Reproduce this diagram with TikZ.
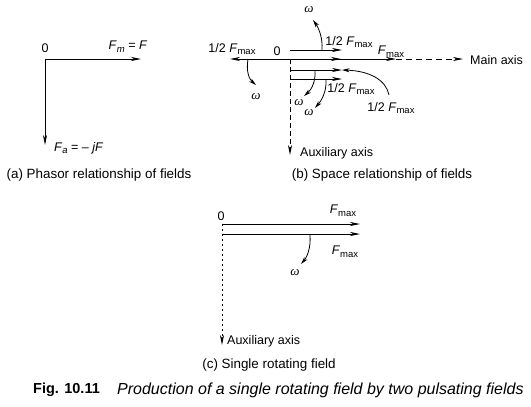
\documentclass[tikz,border=0pt]{standalone}
\usepackage{fontspec}
\setmainfont{Liberation Sans}
\newfontfamily\serifw{Liberation Serif}
\usetikzlibrary{arrows.meta}
\newcommand\subtx[1]{\raisebox{-0.4ex}{\fontsize{9.5}{10}\selectfont #1}}
\newcommand\Fmx{\textit{F}\subtx{max}}
\newcommand\omg{{\serifw\itshape ω}}
\begin{document}
\begin{tikzpicture}[x=1pt,y=1pt,
  ln/.style={line width=0.9pt},
  tip/.style={-{Stealth[length=10pt,width=4pt,inset=3pt]}},
  arr/.style={ln,tip},
  warr/.style={line width=0.8pt,-{Stealth[length=7.5pt,width=4pt,inset=2.2pt]}},
  lbl/.style={inner sep=0pt,font=\fontsize{12.5}{14}\selectfont},
  captxt/.style={inner sep=0pt,font=\fontsize{13.4}{15}\selectfont},
  omn/.style={inner sep=0pt,font=\fontsize{13}{14}\selectfont},
  axb/.style={ln,dash pattern=on 5pt off 3pt},
  axc/.style={ln,dash pattern=on 2pt off 3pt},
  axm/.style={ln,dash pattern=on 6pt off 4pt}]
\useasboundingbox (0,0) rectangle (531,-407);

% ---------- (a) ----------
\coordinate (oa) at (45,-59);
\coordinate (fm) at (141,-59);
\coordinate (fa) at (45,-145);
\node[lbl] (za) at (45,-48) {0};
\node[lbl] (lfm) at (128,-47) {\textit{F}\subtx{\textit{m}} = \textit{F}};
\node[lbl,anchor=west] (lfa) at (54,-148) {\textit{F}\subtx{\textit{a}} = – \textit{jF}};
\draw[arr] (oa) -- (fm);
\draw[arr] (oa) -- (fa);
\node[captxt] (capa) at (99,-175) {(a) Phasor relationship of fields};

% ---------- (b) ----------
\coordinate (ob) at (290,-59);
\coordinate (bl) at (230,-59);
\coordinate (bmid) at (341,-59);
\coordinate (bfm) at (396,-59);
\coordinate (bma) at (463,-59);
\coordinate (bt0) at (290,-50);
\coordinate (bt1) at (342,-50);
\coordinate (bu0) at (290,-70);
\coordinate (bu1) at (342,-70);
\coordinate (bv0) at (290,-79);
\coordinate (bv1) at (342,-79);
\coordinate (baux) at (290,-155);
\draw[arr] (ob) -- (bl);
\draw[arr] (ob) -- (bmid);
\draw[arr] (ob) -- (bfm);
\draw[axm,tip] (bfm) -- (bma);
\draw[arr] (bt0) -- (bt1);
\draw[arr] (bu0) -- (bu1);
\draw[arr] (bv0) -- (bv1);
\draw[axb,tip] (ob) -- (baux);

\node[lbl] (zb) at (277,-51) {0};
\node[lbl] (lhl) at (232,-49) {1/2 \Fmx};
\node[lbl] (lht) at (349,-42) {1/2 \Fmx};
\node[lbl] (lfb) at (391,-52) {\Fmx};
\node[lbl] (lhm) at (351,-89) {1/2 \Fmx};
\node[lbl] (lhr) at (391,-108) {1/2 \Fmx};
\node[lbl,anchor=west] (lmain) at (470,-60) {Main axis};
\node[lbl,anchor=west] (lauxb) at (300,-153) {Auxiliary axis};
\node[captxt] (capb) at (382,-175) {(b) Space relationship of fields};

\coordinate (cr0) at (389,-95);
\draw[warr] (cr0) .. controls (386,-80) and (370,-71) .. (bu1);

% omega arrows in (b)
\coordinate (w1a) at (322,-50);
\coordinate (w1b) at (313,-20);
\draw[warr] (w1a) .. controls (323,-37) and (318,-27) .. (w1b);
\node[omn] (w1) at (309,-10) {\omg};
\coordinate (w2a) at (248,-59);
\coordinate (w2b) at (256,-85);
\draw[warr] (w2a) .. controls (246,-71) and (249,-79) .. (w2b);
\node[omn] (w2) at (256,-97) {\omg};
\coordinate (w3a) at (315,-70);
\coordinate (w3b) at (304,-96);
\draw[warr] (w3a) .. controls (316,-82) and (311,-90) .. (w3b);
\node[omn] (w3) at (299,-103) {\omg};
\coordinate (w4a) at (326,-79);
\coordinate (w4b) at (315,-108);
\draw[warr] (w4a) .. controls (327,-92) and (321,-101) .. (w4b);
\node[omn] (w4) at (309,-113) {\omg};

% ---------- (c) ----------
\coordinate (oc) at (222,-224);
\coordinate (c1) at (360,-224);
\coordinate (c20) at (222,-234);
\coordinate (c21) at (360,-234);
\coordinate (caux) at (222,-345);
\draw[arr] (oc) -- (c1);
\draw[arr] (c20) -- (c21);
\draw[axc,tip] (oc) -- (caux);
\node[lbl] (zc) at (221,-216) {0};
\node[lbl] (lc1) at (343,-211) {\Fmx};
\node[lbl] (lc2) at (345,-252) {\Fmx};
\coordinate (w5a) at (310,-235);
\coordinate (w5b) at (301,-264);
\draw[warr] (w5a) .. controls (311,-248) and (307,-257) .. (w5b);
\node[omn] (w5) at (295,-273) {\omg};
\node[lbl,anchor=west] (lauxc) at (227,-341) {Auxiliary axis};
\node[captxt] (capc) at (269,-365) {(c) Single rotating field};

% ---------- figure caption ----------
\node[inner sep=0pt,anchor=west,font=\fontsize{14.5}{17}\selectfont\bfseries] (fig) at (33,-390) {Fig. 10.11};
\node[inner sep=0pt,anchor=west,font=\fontsize{16}{18}\selectfont\itshape] (figt) at (117,-390) {Production of a single rotating field by two pulsating fields};
\end{tikzpicture}
\end{document}
